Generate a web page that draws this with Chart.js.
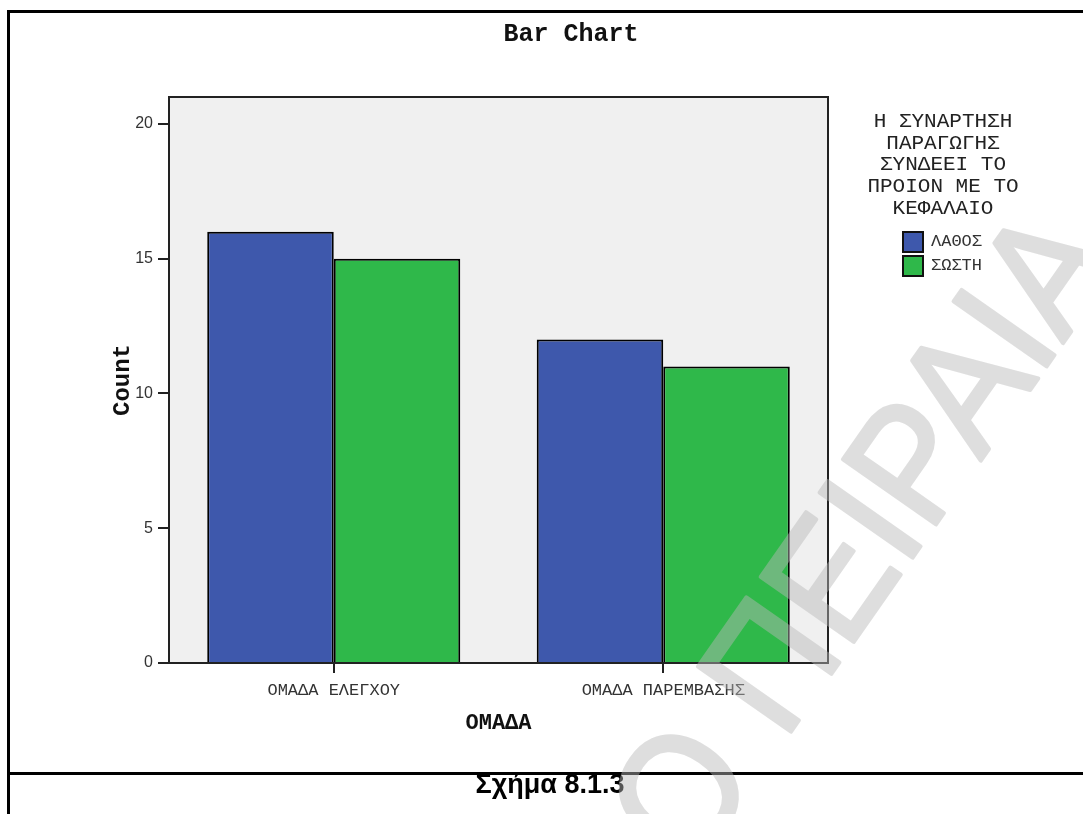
<!DOCTYPE html>
<html>
<head>
<meta charset="utf-8">
<title>Bar Chart</title>
<script src="https://cdn.jsdelivr.net/npm/chart.js@4.4.1/dist/chart.umd.min.js"></script>
<style>
body{margin:0;background:#fff;width:1083px;height:814px;overflow:hidden;position:relative;}
#chart{position:absolute;left:0;top:0;}
.rule{position:absolute;background:#000;}
#legend{position:absolute;left:843px;top:111px;width:200px;font-family:"Liberation Mono",monospace;color:#222;}
#legend .ttl{text-align:center;font-size:21px;line-height:21.7px;margin-bottom:10px;}
#legend .item{display:flex;align-items:center;height:24px;padding-left:59px;}
#legend .box{width:22px;height:22px;box-sizing:border-box;border:2px solid #111;}
#legend .lbl{margin-left:7px;font-size:17px;color:#333;}
#caption{position:absolute;left:0;width:1100px;top:769px;text-align:center;font-family:"Liberation Sans",Arial,sans-serif;font-weight:bold;font-size:27px;line-height:30px;color:#000;}
#mark{position:absolute;left:0;top:0;pointer-events:none;opacity:0.46;}
</style>
</head>
<body>
<!-- the SPSS chart is wider than the page, its right part is cut off -->
<canvas id="chart" width="1142" height="773"></canvas>
<div class="rule" style="left:7px;top:10px;width:1076px;height:3px"></div>
<div class="rule" style="left:7px;top:10px;width:3px;height:804px"></div>
<div class="rule" style="left:7px;top:772px;width:1076px;height:3px"></div>
<div id="legend"></div>
<div id="caption">Σχήμα 8.1.3</div>
<canvas id="mark" width="1083" height="814"></canvas>
<script>
const categories=["ΟΜΑΔΑ ΕΛΕΓΧΟΥ","ΟΜΑΔΑ ΠΑΡΕΜΒΑΣΗΣ"];
const seriesNames=["ΛΑΘΟΣ","ΣΩΣΤΗ"];
const wrongCounts=[16,12];
const rightCounts=[15,11];
const seriesColors=["#3e58ac","#2fb84a"];
const yTicks=[0,5,10,15,20];
const legendTitle=["Η ΣΥΝΑΡΤΗΣΗ","ΠΑΡΑΓΩΓΗΣ","ΣΥΝΔΕΕΙ ΤΟ","ΠΡΟΙΟΝ ΜΕ ΤΟ","ΚΕΦΑΛΑΙΟ"];

const mono="Liberation Mono";

// grey plot background + frame
const plotFrame={
    id:"plotFrame",
    beforeDraw(chart){
        const {ctx,chartArea:a}=chart;
        ctx.save();
        ctx.fillStyle="#f0f0f0";
        ctx.fillRect(a.left,a.top,a.right-a.left,a.bottom-a.top);
        ctx.restore();
    },
    beforeDatasetsDraw(chart){
        const {ctx,chartArea:a}=chart;
        ctx.save();
        ctx.strokeStyle="#222";
        ctx.lineWidth=2;
        ctx.strokeRect(a.left,a.top,a.right-a.left,a.bottom-a.top);
        ctx.restore();
    }
};

const chart=new Chart(document.getElementById("chart").getContext("2d"),{
    type:"bar",
    data:{
        labels:categories,
        datasets:[
            {label:seriesNames[0],data:wrongCounts,backgroundColor:seriesColors[0],borderColor:"#000",borderWidth:2,categoryPercentage:0.768,barPercentage:1},
            {label:seriesNames[1],data:rightCounts,backgroundColor:seriesColors[1],borderColor:"#000",borderWidth:2,categoryPercentage:0.768,barPercentage:1}
        ]
    },
    options:{
        responsive:false,
        animation:false,
        plugins:{
            legend:{display:false},
            tooltip:{enabled:false},
            title:{
                display:true,
                text:"Bar Chart",
                color:"#111",
                font:{family:mono,size:25,weight:"bold"},
                padding:{top:20,bottom:47}
            }
        },
        scales:{
            x:{
                afterFit:s=>{s.height=110;},
                ticks:{font:{family:mono,size:17},color:"#333",padding:7},
                grid:{offset:false,drawOnChartArea:false,tickLength:10,color:"#222",lineWidth:2},
                border:{display:true,color:"#222",width:2},
                title:{display:true,text:"ΟΜΑΔΑ",color:"#111",font:{family:mono,size:22,weight:"bold"},padding:{top:0,bottom:36.8}}
            },
            y:{
                min:0,
                max:21,
                afterBuildTicks:s=>{s.ticks=yTicks.map(v=>({value:v}));},
                afterFit:s=>{s.width=169;},
                ticks:{font:{family:"Liberation Sans",size:16},color:"#333",padding:5},
                grid:{drawOnChartArea:false,tickLength:11,color:"#222",lineWidth:2},
                border:{display:true,color:"#222",width:2},
                title:{display:true,text:"Count",color:"#111",font:{family:mono,size:24,weight:"bold"},padding:{top:108.6,bottom:0}}
            },
            // empty right axis, only keeps room for the legend
            side:{
                position:"right",
                display:true,
                afterFit:s=>{s.width=1142-828;},
                ticks:{display:false},
                grid:{display:false},
                border:{display:false}
            }
        }
    },
    plugins:[plotFrame]
});

// html legend built from the chart datasets
const legend=document.getElementById("legend");
legend.innerHTML=`<div class="ttl">${legendTitle.join("<br>")}</div>`;
chart.data.datasets.forEach(ds=>{
    legend.innerHTML+=`
    <div class="item">
        <div class="box" style="background:${ds.backgroundColor}"></div>
        <span class="lbl">${ds.label}</span>
    </div>`;
});

// document watermark
const m=document.getElementById("mark").getContext("2d");
m.save();
m.translate(790,733);
m.rotate(-55*Math.PI/180);
m.scale(0.92,1);
m.font='165px "Liberation Sans"';
m.fillStyle="rgb(185,185,185)";
m.strokeStyle="rgb(185,185,185)";
m.lineWidth=4;
m.lineJoin="round";
const pre="ΠΑΝΕΠΙΣΤΗΜΙΟ ";
const x0=-m.measureText(pre).width-12;
m.fillText(pre+"ΠΕΙΡΑΙΑ",x0,0);
m.strokeText(pre+"ΠΕΙΡΑΙΑ",x0,0);
m.restore();
</script>
</body>
</html>
